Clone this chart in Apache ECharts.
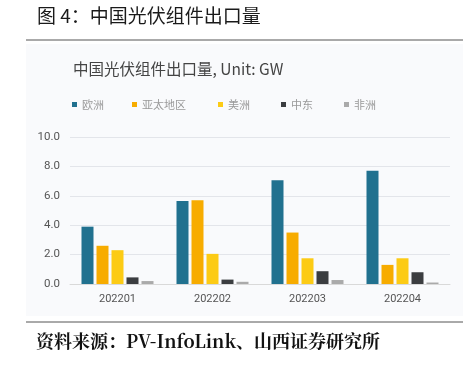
<!DOCTYPE html>
<html><head><meta charset="utf-8">
<script src="https://cdn.jsdelivr.net/npm/echarts@6/dist/echarts.min.js"></script>
<style>html,body{margin:0;padding:0;background:#fff;}#c{width:474px;height:366px;}</style>
</head><body><div id="c"></div>
<script>
const categories = ['202201','202202','202203','202204'];
const seriesNames = ['欧洲','亚太地区','美洲','中东','非洲'];
const europe = [3.9, 5.65, 7.05, 7.7];
const asiaPacific = [2.6, 5.7, 3.5, 1.3];
const americas = [2.3, 2.05, 1.75, 1.75];
const middleEast = [0.45, 0.3, 0.87, 0.8];
const africa = [0.2, 0.15, 0.27, 0.1];
const yTicks = [0, 2, 4, 6, 8, 10];
const colors = ['#21718f','#f7ac00','#fccb15','#3b3d40','#aaaaaa'];
const values = [europe, asiaPacific, americas, middleEast, africa];
const legendLeft = [72, 132, 218, 281, 344];

const chart = echarts.init(document.getElementById('c'), null, {renderer:'canvas'});
chart.setOption({
  backgroundColor: '#ffffff',
  animation: false,
  graphic: [
    {type:'rect', z:-10, shape:{x:26,y:44,width:437,height:272}, style:{fill:'#f9fafc'}},
    {type:'text', left:37, top:6, style:{text:'图 4：中国光伏组件出口量', font:'19px "Noto Sans CJK SC"', fill:'#1a1a1a'}},
    {type:'line', shape:{x1:26,y1:40,x2:463,y2:40}, style:{stroke:'#555', lineWidth:1}},
    {type:'text', left:73, top:61, style:{text:'中国光伏组件出口量, Unit: GW', font:'15.5px "Noto Sans CJK SC"', fill:'#444'}},
    {type:'line', shape:{x1:26,y1:322,x2:463,y2:322}, style:{stroke:'#555', lineWidth:1}},
    {type:'text', left:36, top:332, style:{text:'资料来源：PV-InfoLink、山西证券研究所', font:'bold 18px "Noto Serif CJK SC", "Noto Sans CJK SC"', fill:'#111'}}
  ],
  legend: seriesNames.map((n,i)=>({
    data:[n], left: legendLeft[i], top: 99, itemWidth:5, itemHeight:5, itemGap:4,
    icon:'rect', textStyle:{color:'#999', fontSize:11, fontFamily:'Noto Sans CJK SC'}, padding:0
  })),
  grid: {left:70, right:24, top:137, bottom:82},
  xAxis: {
    type:'category', data: categories,
    axisLine:{lineStyle:{color:'#d9d9d9'}}, axisTick:{show:false},
    axisLabel:{color:'#555', fontSize:11, margin:10, fontFamily:'Roboto'}
  },
  yAxis: {
    type:'value', min: yTicks[0], max: yTicks[yTicks.length-1], interval: 2,
    axisLine:{show:false}, axisTick:{show:false},
    splitLine:{lineStyle:{color:'#e3e5ea'}},
    axisLabel:{color:'#555', fontSize:11.5, margin:10, fontFamily:'Roboto', formatter:v=>v.toFixed(1)}
  },
  series: seriesNames.map((n,i)=>({
    name:n, type:'bar', data: values[i], barWidth:12, barGap:'25%',
    itemStyle:{color:colors[i]}
  }))
});
</script></body></html>
